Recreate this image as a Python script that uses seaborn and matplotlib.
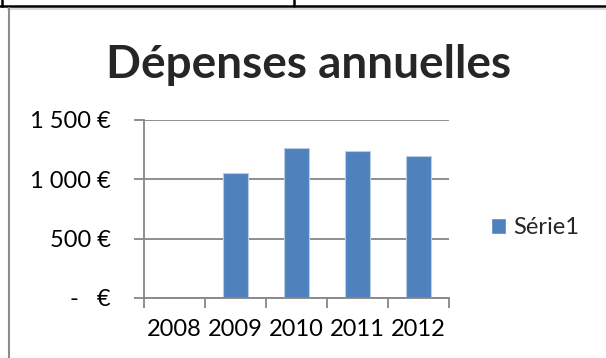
import numpy as np
import pandas as pd
import matplotlib
matplotlib.use("Agg")
import matplotlib.pyplot as plt
from matplotlib.lines import Line2D
from matplotlib.patches import Patch
import seaborn as sns

years = ["2008", "2009", "2010", "2011", "2012"]
depenses = [0, 1050, 1260, 1240, 1200]
serie = "Série1"
ytick_vals = [0, 500, 1000, 1500]
ytick_labels = ["-   €", "500 €", "1 000 €", "1 500 €"]

df = pd.DataFrame({"annee": years, "montant": depenses})

sns.set_style("white")
plt.rcParams["font.family"] = ["Lato", "DejaVu Sans"]

W, H = 606, 358
fig = plt.figure(figsize=(W / 100, H / 100), dpi=100)
ax = fig.add_axes([144 / W, 1 - 298 / H, (449 - 144) / W, (298 - 120) / H])

blue = "#4f81bd"
sns.barplot(data=df, x="annee", y="montant", color=blue, width=0.4,
            saturation=1, ax=ax, edgecolor="#b9cde5", linewidth=0.8)

ax.set_xlim(-0.5, len(years) - 0.5)
ax.set_ylim(0, 1500)
ax.set_yticks(ytick_vals)
ax.set_yticklabels(ytick_labels, fontsize=17)
ax.set_xlabel("")
ax.set_ylabel("")
ax.yaxis.grid(True, color="#868686", linewidth=1.3)
ax.set_axisbelow(True)
for s in ["top", "right"]:
    ax.spines[s].set_visible(False)
for s in ["left", "bottom"]:
    ax.spines[s].set_color("#868686")
    ax.spines[s].set_linewidth(1.3)

ax.tick_params(axis="y", which="major", direction="out", length=7, width=1.3,
               color="#868686", pad=17, labelcolor="black", left=True)

ax.tick_params(axis="x", which="major", length=0, pad=15, labelsize=17,
               labelcolor="black")
ax.set_xticks(np.arange(-0.5, len(years), 1.0), minor=True)
ax.tick_params(axis="x", which="minor", direction="out", length=7, width=1.3,
               color="#868686", bottom=True)

fig.text(309 / W, 1 - 78 / H, "Dépenses annuelles", ha="center",
         va="baseline", fontsize=33, fontweight="bold")

ax.legend(handles=[Patch(facecolor=blue, label=serie)], loc="center left",
          bbox_to_anchor=(479 / W, 1 - 228 / H), bbox_transform=fig.transFigure,
          frameon=False, fontsize=17, handlelength=0.65, handleheight=0.65,
          handletextpad=0.3, borderpad=0)

# spreadsheet cell borders around the chart
def px_line(x0, y0, x1, y1, color, lw):
    fig.add_artist(Line2D([x0 / W, x1 / W], [1 - y0 / H, 1 - y1 / H],
                          color=color, linewidth=lw, transform=fig.transFigure))

px_line(0, 6, W, 6, "black", 1.8)
px_line(2, 0, 2, 6, "black", 1.8)
px_line(294, 0, 294, 6, "black", 1.8)
px_line(8, 8.5, W, 8.5, "#d9d9d9", 1.5)
px_line(8.5, 8, 8.5, H, "#8c8c8c", 1.5)

fig.savefig("out.png", dpi=100)
